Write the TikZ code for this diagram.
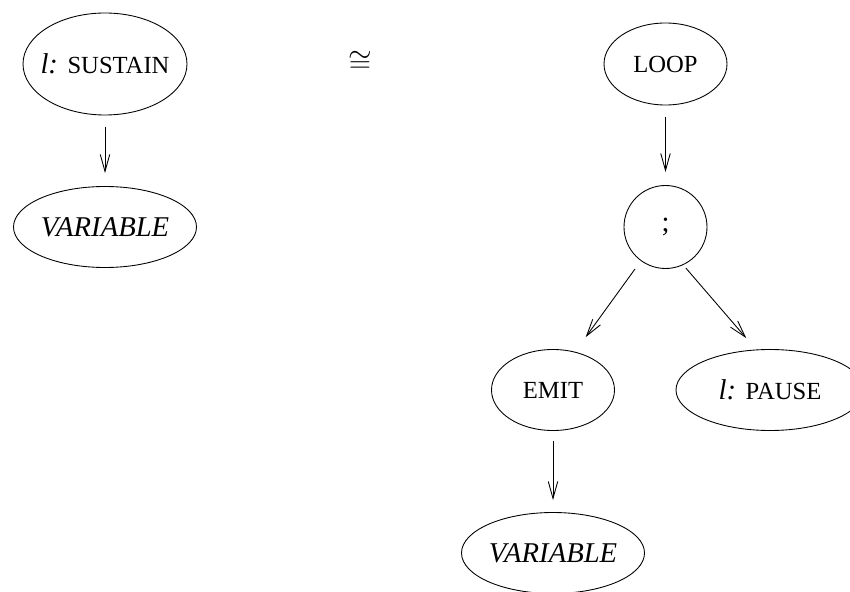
\documentclass[tikz,border=0pt]{standalone}
\usepackage{fontspec}
\setmainfont{Liberation Serif}
\usepackage{tikz}
\usetikzlibrary{shapes.geometric, arrows.meta}
\usetikzlibrary{positioning}

\newcommand{\kw}[1]{{\fontsize{14}{16}\selectfont #1}}

\begin{document}
\begin{tikzpicture}[node distance=3.26cm, line width=0.5pt, font=\fontsize{16.3}{19}\selectfont]
	%defines
	\tikzstyle{sustainNode} = [ellipse, draw=black, inner sep=0pt, inner xsep=-0.4cm, minimum width=3.28cm, minimum height=2.04cm, text centered]
	\tikzstyle{variableNode} = [ellipse, draw=black, inner sep=0pt, minimum width=3.66cm, minimum height=1.62cm, text centered]
	\tikzstyle{loopNode} = [ellipse, draw=black, inner sep=0pt, minimum width=2.46cm, minimum height=1.64cm, text centered]
	\tikzstyle{semiNode} = [circle, draw=black, inner sep=0pt, minimum size=1.66cm, text centered]
	\tikzstyle{emitNode} = [ellipse, draw=black, inner sep=0pt, minimum width=2.46cm, minimum height=1.62cm, text centered]
	\tikzstyle{pauseNode} = [ellipse, draw=black, inner sep=0pt, minimum width=3.76cm, minimum height=1.62cm, text centered]
	\tikzstyle{arrow} = [->, >={Straight Barb[length=0.34cm, width=0.19cm]}, shorten <=0.23cm, shorten >=0.26cm]
	\useasboundingbox (0,0) rectangle (17,-11.84);
	%left tree
	\node (sustain) [sustainNode] at (2.1,-1.28) {\textit{l:} \kw{SUSTAIN}};
	\node (varLeft) [variableNode, below of=sustain] {\textit{VARIABLE}};
	%congruence
	\node (cong) at (7.2,-1.24) {$\cong$};
	%right tree
	\node (loop) [loopNode] at (13.31,-1.28) {\kw{LOOP}};
	\node (semi) [semiNode, below of=loop] {;};
	\node (emit) [emitNode, below of=semi, xshift=-2.25cm] {\kw{EMIT}};
	\node (pause) [pauseNode, below of=semi, xshift=2.09cm] {\textit{l:} \kw{PAUSE}};
	\node (varRight) [variableNode, below of=emit] {\textit{VARIABLE}};
	\draw [arrow] (sustain) -- (varLeft);
	\draw [arrow] (loop) -- (semi);
	\draw [arrow, shorten <=0.2cm, shorten >=0.36cm] (semi.234) -- (emit.60);
	\draw [arrow, shorten <=0.08cm, shorten >=0.3cm] (semi.-65) -- (pause.109);
	\draw [arrow, shorten <=0.2cm, shorten >=0.24cm] (emit) -- (varRight);
\end{tikzpicture}
\end{document}
